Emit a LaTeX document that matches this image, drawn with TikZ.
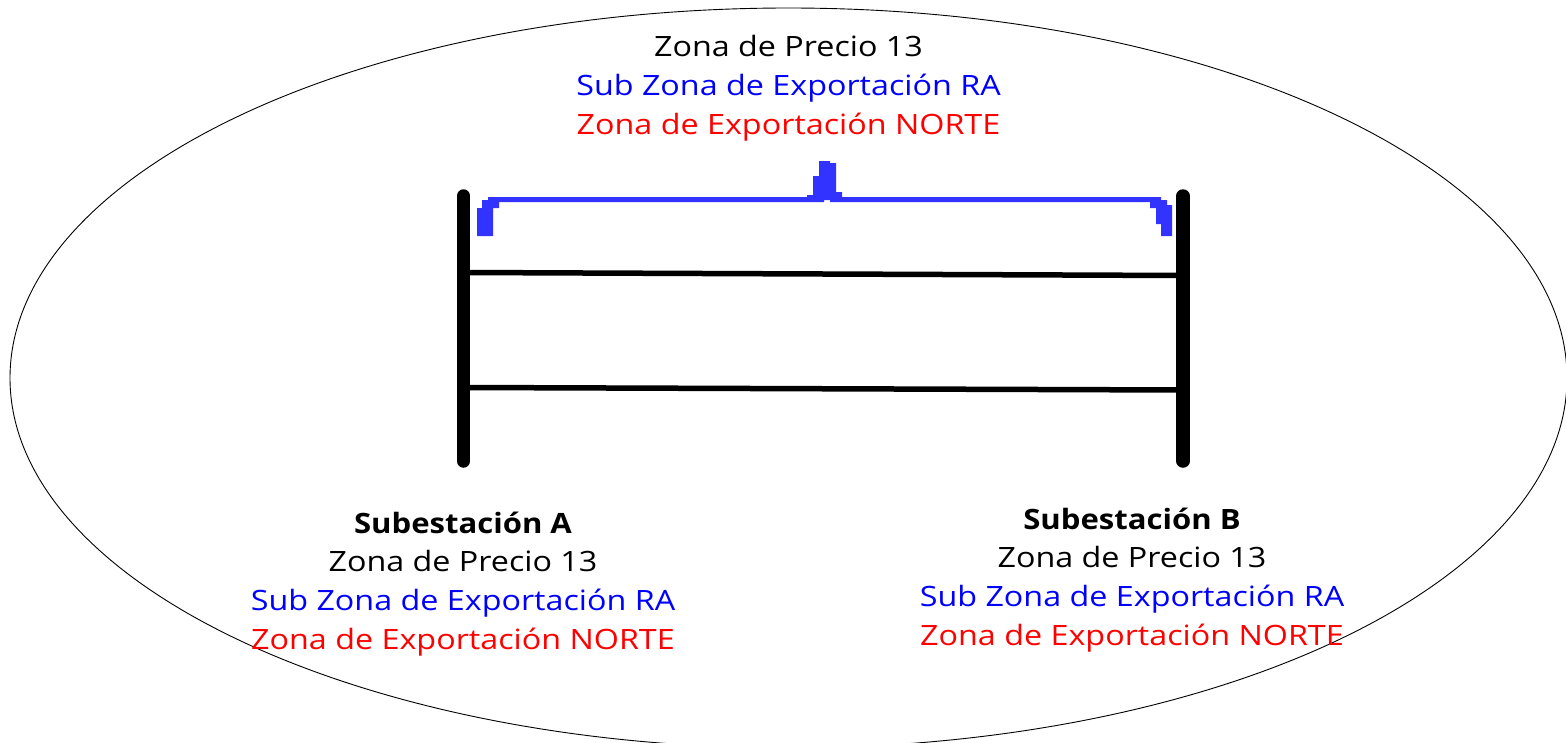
\documentclass[tikz,border=0pt]{standalone}
\usepackage{fontspec}
\setmainfont[FakeStretch=1.153,BoldFeatures={FakeStretch=1.11}]{Open Sans}
\definecolor{bluefill}{RGB}{51,51,255}
\tikzset{
  label text/.style={align=center,inner sep=0pt,font=\fontsize{28bp}{38.8bp}\selectfont},
  post/.style={line width=13.5bp,line cap=round,black},
  tie/.style={line width=5.5bp,black},
  blueshape/.style={fill=bluefill,draw=none}
}
\newcommand{\zp}{Zona de Precio 13}
\newcommand{\sz}{\textcolor[RGB]{0,0,255}{Sub Zona de Exportación RA}}
\newcommand{\ze}{\textcolor{red}{Zona de Exportación NORTE}}
\begin{document}
\begin{tikzpicture}[x=1bp,y=-1bp]
\useasboundingbox (0,0) rectangle (1566,743);
\clip (0,0) rectangle (1566,743);
\draw[line width=0.9bp] (788.5,378) ellipse [x radius=778.5,y radius=370];
\coordinate (A1) at (463.5,196);
\coordinate (A2) at (463.5,461);
\coordinate (B1) at (1183,196);
\coordinate (B2) at (1183,461);
\coordinate (A3) at (463.5,272.5);
\coordinate (B3) at (1183,275.5);
\coordinate (A4) at (463.5,387.5);
\coordinate (B4) at (1183,390);
\draw[post] (A1) -- (A2);
\draw[post] (B1) -- (B2);
\draw[tie] (A3) -- (B3);
\draw[tie] (A4) -- (B4);
\fill[blueshape] (477,236) -- (477,208) -- (482,208) -- (482,200) -- (488,200) -- (488,197)
  -- (807,197) -- (807,195) -- (813,195) -- (813,176) -- (819,176) -- (819,161) -- (830,161) -- (830,163) -- (836,163) -- (836,192) -- (842,192) -- (842,197)
  -- (1161,197) -- (1161,200) -- (1167,200) -- (1167,205) -- (1172,205) -- (1172,236) -- (1161,236) -- (1161,224) -- (1156,224) -- (1156,208) -- (1150,208) -- (1150,202)
  -- (830,202) -- (830,200) -- (824,200) -- (824,202)
  -- (499,202) -- (499,208) -- (493,208) -- (493,236) -- cycle;
\node[label text] (top) at (788.5,88) {\zp\\ \sz\\ \ze};
\node[label text] (subA) at (463,584) {\textbf{Subestación A}\\ \zp\\ \sz\\ \ze};
\node[label text] (subB) at (1132,580) {\textbf{Subestación B}\\ \zp\\ \sz\\ \ze};
\end{tikzpicture}
\end{document}
